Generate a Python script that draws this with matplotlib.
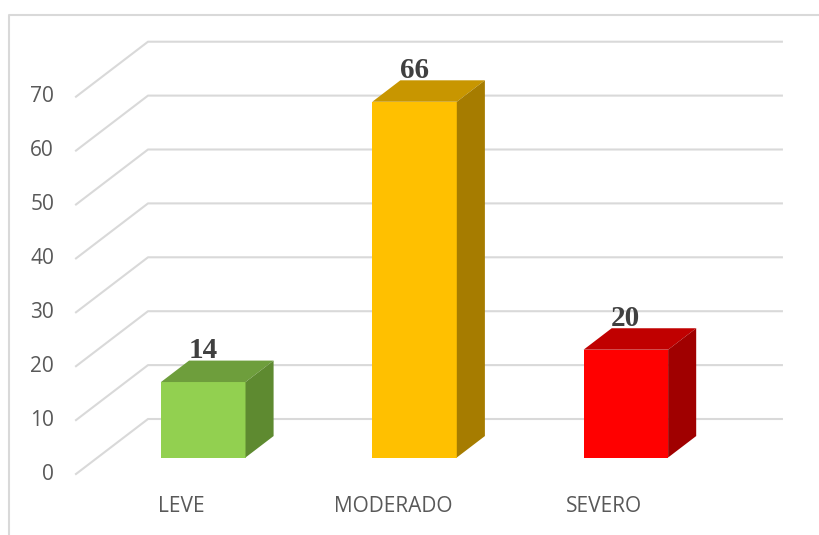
import numpy as np
import matplotlib
matplotlib.use('Agg')
import matplotlib.pyplot as plt
from matplotlib.patches import Polygon, Rectangle

# data
categories = ['LEVE', 'MODERADO', 'SEVERO']
values = [14, 66, 20]
y_ticks = [0, 10, 20, 30, 40, 50, 60, 70]

# colours (front, top, side)
front_colors = ['#92D050', '#FFC000', '#FF0000']
top_colors = ['#6E9E3C', '#C89600', '#C00000']
side_colors = ['#5E8A30', '#A67C00', '#A00000']

# geometry of the fake 3d box (figure pixels -> data units)
W, H = 819, 535
px_left, px_zero = 76, 474        # front floor corner in pixels
px_cat = 211.3                    # pixels per category
px_val = 5.39                     # pixels per value unit
depth_dx = 72 / px_cat            # full depth offset, in category units
depth_dy = 55 / px_val            # full depth offset, in value units
bar_w = 0.4
d0, d1 = 0.30, 0.69               # bar front and back depth
grid_color = '#D9D9D9'
text_color = '#595959'

fig = plt.figure(figsize=(W / 100, H / 100), dpi=100)
ax = fig.add_axes([0, 0, 1, 1])
x0 = -0.5 - px_left / px_cat
ax.set_xlim(x0, x0 + W / px_cat)
ax.set_ylim((px_zero - H) / px_val, px_zero / px_val)
ax.axis('off')

# outer border (left and top only visible)
ax.plot([9 / W, 9 / W, 1.0], [0, 1 - 15 / H, 1 - 15 / H], color=grid_color,
        lw=1.5, transform=ax.transAxes, clip_on=False)

# walls / gridlines
n = len(categories)
for v in y_ticks:
    ax.plot([-0.5, -0.5 + depth_dx, n - 0.5 + depth_dx],
            [v, v + depth_dy, v + depth_dy], color=grid_color, lw=1.5, zorder=1)
    ax.text(-0.5 - 22 / px_cat, v, str(v), ha='right', va='center',
            fontsize=15, color=text_color, family='Open Sans')

# bars
for i, (v, fc, tc, sc) in enumerate(zip(values, front_colors, top_colors, side_colors)):
    xl = i - bar_w / 2 + d0 * depth_dx
    xr = xl + bar_w
    ddx = (d1 - d0) * depth_dx
    yb = d0 * depth_dy
    yt = v + d0 * depth_dy
    yback = v + d1 * depth_dy
    ax.add_patch(Rectangle((xl, yb), bar_w, v, facecolor=fc, edgecolor='none', zorder=3))
    ax.add_patch(Polygon([(xl, yt), (xr, yt), (xr + ddx, yback), (xl + ddx, yback)],
                         closed=True, facecolor=tc, edgecolor='none', zorder=3))
    ax.add_patch(Polygon([(xr, yb), (xr, yt), (xr + ddx, yback), (xr + ddx, d1 * depth_dy)],
                         closed=True, facecolor=sc, edgecolor='none', zorder=3))
    ax.text(i + d0 * depth_dx, yback + 0.4, str(v), ha='center', va='baseline',
            fontsize=21, fontweight='bold', color='#404040',
            family='Liberation Serif', zorder=4)

# category labels
for i, c in enumerate(categories):
    ax.text(i, (px_zero - 506) / px_val, c, ha='center', va='center',
            fontsize=15, color=text_color, family='Open Sans')

plt.savefig('out.png', dpi=100)
